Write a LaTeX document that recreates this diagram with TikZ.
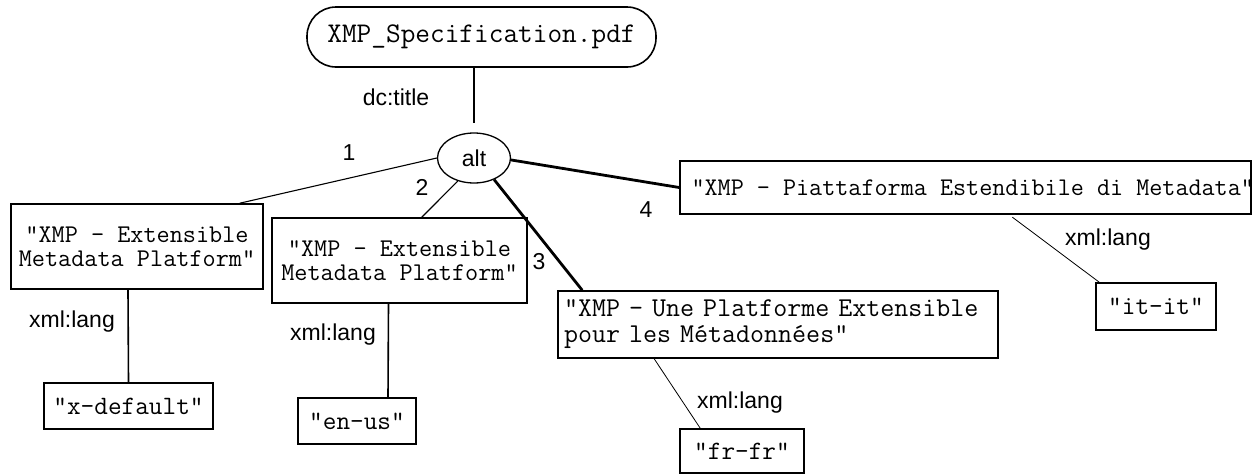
\documentclass[tikz,border=0pt]{standalone}
\usepackage{fontspec}
\setmainfont{Liberation Sans}
\usetikzlibrary{shapes.geometric,calc}
\begin{document}
\begin{tikzpicture}[x=1pt,y=-1pt,
  box/.style={draw,line width=1.6pt,inner sep=0pt,font=\ttfamily\fontsize{25.5}{24}\selectfont},
  lbl/.style={inner sep=0pt,font=\fontsize{23}{25}\selectfont},
  thin/.style={line width=1.1pt},
  mid/.style={line width=1.6pt},
  thick/.style={line width=2.8pt}]
\useasboundingbox (0,0) rectangle (1256,474);
\node[box,rounded corners=29pt,minimum width=349pt,minimum height=60pt,font=\ttfamily\fontsize{28.5}{28}\selectfont] (top) at (481.5,37) {XMP\_Specification.pdf};
\node[draw,ellipse,line width=1.3pt,minimum width=73pt,minimum height=50pt,inner sep=0pt,font=\fontsize{23}{25}\selectfont] (alt) at (474,158) {alt};
\node[box,minimum width=252pt,minimum height=85pt,align=center] (b1) at (137,246.5) {"XMP - Extensible\\Metadata Platform"};
\node[box,minimum width=255pt,minimum height=85pt,align=center] (b2) at (399.5,260.5) {"XMP - Extensible\\Metadata Platform"};
\node[box,minimum width=440pt,minimum height=67pt,align=left,text width=428pt,font=\ttfamily\fontsize{27.2}{26}\selectfont] (b3) at (778,324.5) {"XMP - Une Platforme Extensible\\pour les Métadonnées"};
\node[box,minimum width=571pt,minimum height=53pt,font=\ttfamily\fontsize{25.4}{24}\selectfont] (b4) at (965.5,187.5) {\makebox[548pt][l]{"XMP – Piattaforma Estendibile di Metadata"}};
\node[box,minimum width=169pt,minimum height=46pt,font=\ttfamily\fontsize{26.5}{24}\selectfont] (xd) at (128.5,406) {"x-default"};
\node[box,minimum width=118pt,minimum height=46pt,font=\ttfamily\fontsize{26.5}{24}\selectfont] (en) at (357,421) {"en-us"};
\node[box,minimum width=124pt,minimum height=44pt,font=\ttfamily\fontsize{26.5}{24}\selectfont] (fr) at (742,451) {"fr-fr"};
\node[box,minimum width=120pt,minimum height=47pt,font=\ttfamily\fontsize{26.5}{24}\selectfont] (it) at (1156,306.5) {"it-it"};
\node[lbl] (dct) at (396,97) {dc:title};
\node[lbl] (n1) at (349,153) {1};
\node[lbl] (n2) at (422,187) {2};
\node[lbl] (n3) at (539,262) {3};
\node[lbl] (n4) at (646,210) {4};
\node[lbl] (l1) at (72,322) {xml:lang};
\node[lbl] (l2) at (333,335) {xml:lang};
\node[lbl] (l3) at (740,403) {xml:lang};
\node[lbl] (l4) at (1108,240) {xml:lang};
\draw[mid,shorten >=9pt] (alt.north |- top.south) -- (alt.north);
\draw[thin] (alt.west) -- ([xshift=-24pt]b1.north east);
\draw[thin] (alt.235) -- ([xshift=-106pt]b2.north east);
\draw[thick] (alt.313) -- ([xshift=25pt]b3.north west);
\draw[thick] (alt.357) -- (b4.west);
\draw[mid] ([xshift=-9pt]b1.south) -- (xd.north);
\draw[mid] ([xshift=-11pt]b2.south) -- ([xshift=31pt]en.north);
\draw[line width=0.8pt] ([xshift=97pt]b3.south west) -- ([xshift=21pt]fr.north west);
\draw[line width=0.8pt,shorten <=4pt] ([xshift=330pt]b4.south west) -- ([xshift=4pt]it.north west);
\end{tikzpicture}
\end{document}
